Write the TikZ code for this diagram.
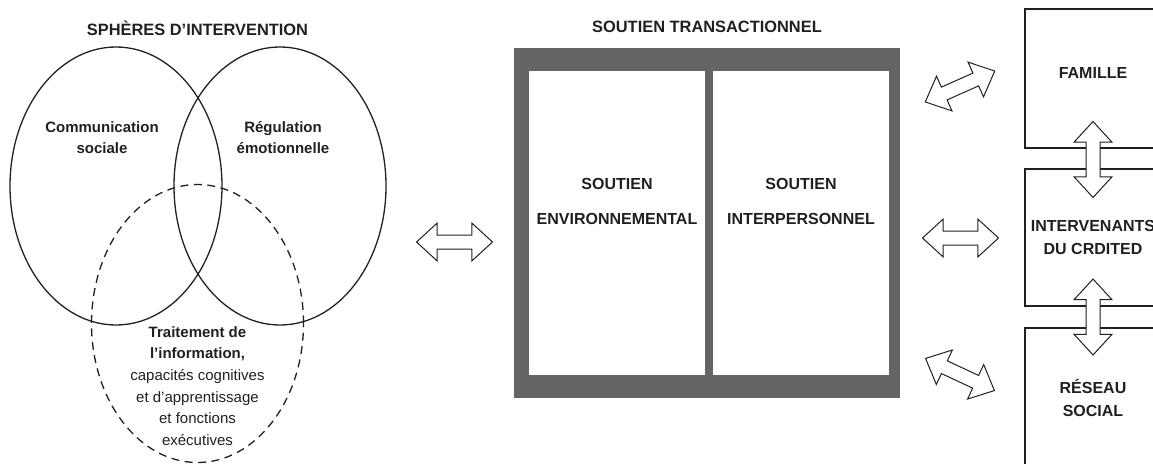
\documentclass[tikz,border=0pt]{standalone}
\usepackage{fontspec}
\setmainfont{Liberation Sans}
\usetikzlibrary{positioning,shapes.geometric,shapes.arrows}
\definecolor{boxgray}{HTML}{646466}
\definecolor{ink}{HTML}{231F20}

\begin{document}
\begin{tikzpicture}
  [x=1pt, y=-1pt,
   every node/.style={text=ink, inner sep=0pt},
   venn/.style={ellipse, draw=ink, line width=1.3pt, minimum width=212pt, minimum height=278pt},
   vennlabel/.style={align=center, font=\bfseries\fontsize{15}{21}\selectfont},
   heading/.style={font=\bfseries\fontsize{16.4}{20}\selectfont},
   panel/.style={fill=white, minimum width=176pt, minimum height=304pt},
   paneltext/.style={align=center, font=\bfseries\fontsize{16}{35}\selectfont},
   partner/.style={draw=ink, line width=1.1pt, fill=white, minimum width=136pt,
     align=center, font=\bfseries\fontsize{16}{22.5}\selectfont},
   dblarrow/.style={double arrow, draw=ink, fill=white, line width=1pt, inner sep=6.5pt,
     double arrow head extend=12pt, double arrow tip angle=85, minimum height=76pt}]
  \useasboundingbox (0,0) rectangle (1153,463);
  \clip (0,0) rectangle (1153,463);

  % spheres d'intervention
  \node[heading] (spheres) at (197.5,28) {SPHÈRES D’INTERVENTION};
  \node[venn] (comm) at (116,186) {};
  \node[venn] (regul) at (280,186) {};
  \node[venn, dash pattern=on 8pt off 5.5pt] (trait) at (197.5,323.5) {};
  \node[vennlabel] (commtext) at (102,137.5) {Communication\\sociale};
  \node[vennlabel] (regultext) at (283,137.5) {Régulation\\émotionnelle};
  \node[align=center, font=\fontsize{15}{21.6}\selectfont] (traittext) at (197.5,386)
    {\textbf{Traitement de}\\\textbf{l’information,}\\capacités cognitives\\et d’apprentissage\\et fonctions\\exécutives};

  % soutien transactionnel
  \node[heading] (transtitle) at (707,27) {SOUTIEN TRANSACTIONNEL};
  \node[fill=boxgray, minimum width=386pt, minimum height=350pt] (trans) at (707,223) {};
  \node[panel] (envpanel) at (617,223) {};
  \node[panel] (interpanel) at (801,223) {};
  \node[paneltext] (envtext) at ([yshift=22pt]envpanel.center) {SOUTIEN\\ENVIRONNEMENTAL};
  \node[paneltext] (intertext) at ([yshift=22pt]interpanel.center) {SOUTIEN\\INTERPERSONNEL};

  % partenaires
  \node[partner, minimum height=139pt, text depth=11pt] (famille) at (1093,78.5) {FAMILLE};
  \node[partner, minimum height=137pt] (crdited) at (1093,237.5) {INTERVENANTS\\DU CRDITED};
  \node[partner, minimum height=140pt] (reseau) at (1093,398) {RÉSEAU\\SOCIAL};

  % fleches doubles
  \node[dblarrow] (vennlink) at (454.5,242) {};
  \node[dblarrow, rotate=24] (famlink) at (960,86.5) {};
  \node[dblarrow] (crdlink) at (960.5,238) {};
  \node[dblarrow, rotate=-25] (soclink) at (960,374.5) {};
  \node[dblarrow, rotate=90] (famcrd) at (1093,159.5) {};
  \node[dblarrow, rotate=90] (crdsoc) at (1093,317) {};
\end{tikzpicture}
\end{document}
